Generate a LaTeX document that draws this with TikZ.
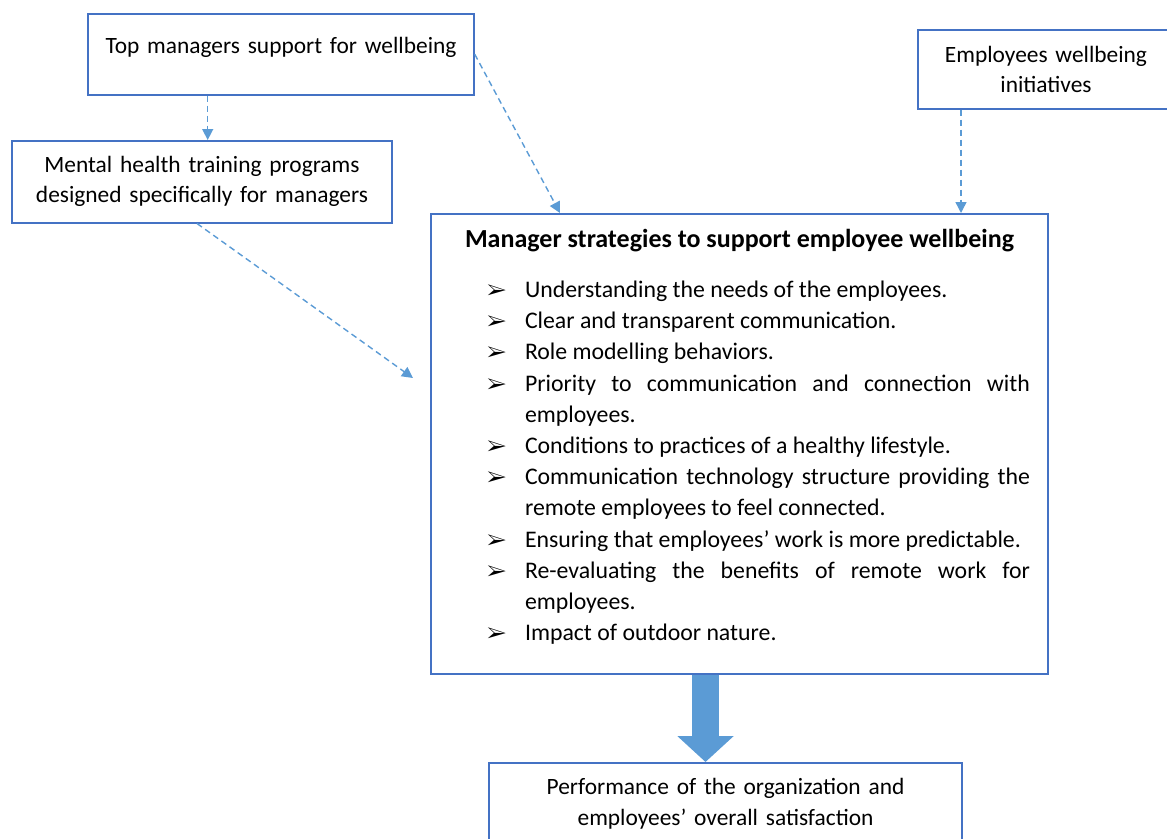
\documentclass[tikz,border=0pt]{standalone}
\usepackage{fontspec}
\setmainfont{Carlito}
\usepackage{pifont}
\usetikzlibrary{arrows.meta}
\definecolor{boxblue}{HTML}{4472C4}
\definecolor{linkblue}{HTML}{5B9BD5}
\newcommand{\stratitem}[1]{\par\noindent\llap{\makebox[38pt][l]{\fontsize{21}{21}\selectfont\ding{226}}}#1}

\begin{document}
\begin{tikzpicture}[x=1pt,y=-1pt,>={Triangle[length=11pt,width=11pt]},
  box/.style={draw=boxblue,line width=1.5pt,inner sep=0pt,anchor=north,align=center,
    font=\fontsize{23.4}{30.5}\selectfont},
  link/.style={->,draw=linkblue,line width=1.4pt,dash pattern=on 6pt off 4pt},
  bigarrow/.style={draw=linkblue,line width=27pt,-{Triangle[length=26pt,width=55pt]}}]
\useasboundingbox (0,0) rectangle (1167,838);
% define the boxes
  \node[box,text width=386pt,text height=39.3pt,text depth=41.7pt] (top) at (281,13)
    {Top managers support for wellbeing};
  \node[box,text width=380pt,text height=31.7pt,text depth=50.3pt] (training) at (202,140)
    {Mental health training programs\\designed specifically for managers};
  \node[box,text width=256pt,text height=32.6pt,text depth=46.4pt] (initiatives) at (1046,29)
    {Employees wellbeing\\initiatives};
  \node[box,align=justify,text width=617pt,text height=33.7pt,text depth=426.3pt,
    font=\fontsize{23.8}{31.2}\selectfont] (strategies) at (739.5,213)
    {{\centering\fontsize{26}{30}\selectfont\bfseries Manager strategies to support employee wellbeing\par}
     \vspace{18.8pt}
     \leftskip=94pt \rightskip=18pt \baselineskip=31.2pt
     \hyphenpenalty=10000 \tolerance=9999
     \stratitem{Understanding the needs of the employees.}
     \stratitem{Clear and transparent communication.}
     \stratitem{Role modelling behaviors.}
     \stratitem{Priority to communication and connection with employees.}
     \stratitem{Conditions to practices of a healthy lifestyle.}
     \stratitem{Communication technology structure providing the remote employees to feel connected.}
     \stratitem{Ensuring that employees' work is more predictable.}
     \stratitem{Re-evaluating the benefits of remote work for employees.}
     \stratitem{Impact of outdoor nature.}\par};
  \node[box,text width=473pt,text height=32pt,text depth=47pt] (performance) at (725.5,762)
    {Performance of the organization and\\employees' overall satisfaction};

% define the links
  \coordinate (ab) at (207.7,0);
  \coordinate (ad) at (560,0);
  \coordinate (cd) at (961,0);
  \coordinate (bd) at (413,378);
  \coordinate (flow) at (705.5,0);
  \draw[link] (top.south -| ab) -- (training.north -| ab);
  \draw[link] (top.east) -- (strategies.north -| ad);
  \draw[link] (initiatives.south -| cd) -- (strategies.north -| cd);
  \draw[link] ([xshift=-5pt]training.south) -- (bd);
  \draw[bigarrow] (strategies.south -| flow) -- (performance.north -| flow);
\end{tikzpicture}
\end{document}
